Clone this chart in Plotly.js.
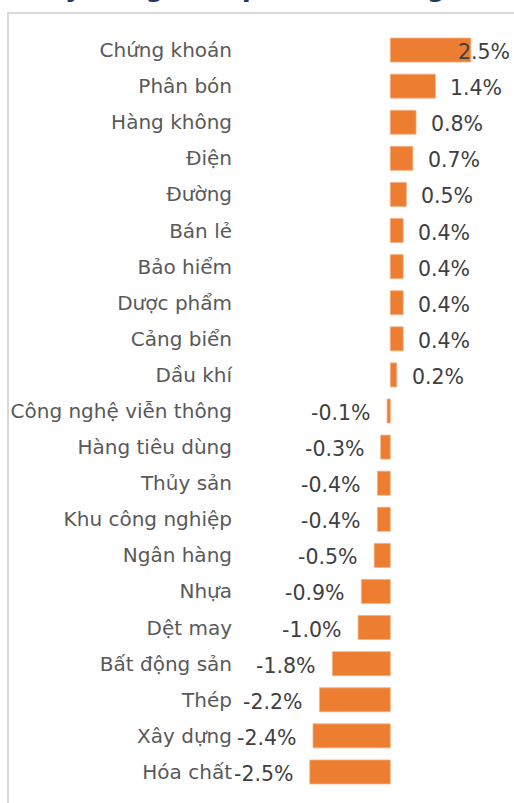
<!DOCTYPE html>
<html>
<head>
<meta charset="utf-8">
<script src="https://cdn.plot.ly/plotly-3.0.1.min.js"></script>
<style>
  html, body { margin: 0; padding: 0; background: #fff; overflow: hidden; }
  #wrap { position: relative; width: 514px; height: 803px; }
  #chart { position: absolute; left: 0; top: 0; width: 514px; height: 803px; }
  #frame { position: absolute; left: 7px; top: 12px; width: 520px; height: 800px;
           border-left: 2px solid #d9d9d9; border-top: 2px solid #d9d9d9; pointer-events: none; }
</style>
</head>
<body>
<div id="wrap">
  <div id="chart"></div>
  <div id="frame"></div>
</div>
<script>
const categories = [
  "Chứng khoán", "Phân bón", "Hàng không", "Điện", "Đường", "Bán lẻ", "Bảo hiểm",
  "Dược phẩm", "Cảng biển", "Dầu khí", "Công nghệ viễn thông", "Hàng tiêu dùng",
  "Thủy sản", "Khu công nghiệp", "Ngân hàng", "Nhựa", "Dệt may", "Bất động sản",
  "Thép", "Xây dựng", "Hóa chất"
];
const values = [2.5, 1.4, 0.8, 0.7, 0.5, 0.4, 0.4, 0.4, 0.4, 0.2, -0.1, -0.3,
  -0.4, -0.4, -0.5, -0.9, -1.0, -1.8, -2.2, -2.4, -2.5];
const valueLabels = ["2.5%", "1.4%", "0.8%", "0.7%", "0.5%", "0.4%", "0.4%", "0.4%", "0.4%", "0.2%",
  "-0.1%", "-0.3%", "-0.4%", "-0.4%", "-0.5%", "-0.9%", "-1.0%", "-1.8%", "-2.2%", "-2.4%", "-2.5%"];
const titleText = "Thay đổi giá cổ phiếu theo ngành ngày";

const W = 514, H = 803;
const mL = 236, mR = 0, mT = 32, mB = 13;
const xRange = [-4.79, 3.84];
const plotW = W - mL - mR;
const pxPerUnit = plotW / (xRange[1] - xRange[0]);
const labelFont = {family: "DejaVu Sans, Verdana, sans-serif", size: 20.5, color: "#404040"};

const annotations = values.map((v, i) => {
  const gap = 13;
  const estW = valueLabels[i].length * 12.9;
  const endPx = (v - xRange[0]) * pxPerUnit;
  if (v >= 0 && endPx + gap + estW > plotW - 2) {
    return {x: 1, xref: "paper", y: categories[i], yref: "y", xanchor: "right",
      xshift: -2, yshift: -2, text: valueLabels[i], showarrow: false, font: labelFont};
  }
  return {x: v, xref: "x", y: categories[i], yref: "y",
    xanchor: v >= 0 ? "left" : "right", xshift: v >= 0 ? gap : -gap - 2, yshift: -2,
    text: valueLabels[i], showarrow: false, font: labelFont};
});

annotations.push({
  x: 0, xref: "paper", y: 1 + (mT - 4) / (H - mT - mB), yref: "paper",
  xanchor: "left", yanchor: "bottom", xshift: -(mL - 10),
  text: "<b>" + titleText + "</b>", showarrow: false,
  font: {family: "DejaVu Sans, Verdana, sans-serif", size: 26, color: "#1f3864"}
});

const trace = {
  type: "bar",
  orientation: "h",
  x: values,
  y: categories,
  marker: {color: "#ED7D31", line: {color: "#F4B183", width: 0.8}},
  hoverinfo: "skip"
};

const layout = {
  width: W, height: H,
  margin: {l: mL, r: mR, t: mT, b: mB, pad: 0},
  paper_bgcolor: "#ffffff",
  plot_bgcolor: "#ffffff",
  bargap: 0.335,
  showlegend: false,
  xaxis: {range: xRange, showgrid: false, zeroline: false, showticklabels: false,
    showline: false, ticks: "", fixedrange: true},
  yaxis: {type: "category", categoryorder: "array", categoryarray: categories,
    autorange: "reversed", showgrid: false, zeroline: false, showline: false, ticks: "",
    ticklabelstandoff: 3,
    tickfont: {family: "DejaVu Sans, Verdana, sans-serif", size: 20, color: "#595959"},
    fixedrange: true},
  annotations: annotations
};

Plotly.newPlot("chart", [trace], layout, {displayModeBar: false, staticPlot: true});
</script>
</body>
</html>
